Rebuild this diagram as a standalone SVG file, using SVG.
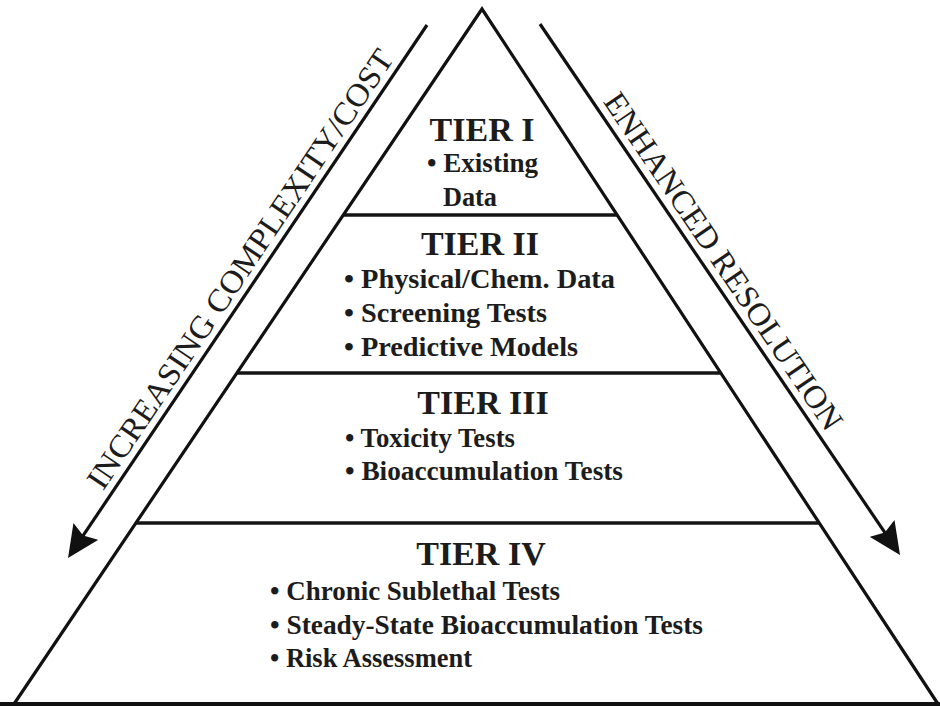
<svg xmlns="http://www.w3.org/2000/svg" width="940" height="707" viewBox="0 0 940 707">
  <style>
    .edge { stroke: #111; stroke-width: 3.2; fill: none; stroke-linecap: butt; }
    .divider { stroke: #151515; stroke-width: 3.5; }
    .head { font-family: "Liberation Serif", "Times New Roman", serif; font-weight: bold; font-size: 34px; fill: #1c1c1c; text-anchor: middle; }
    .item { font-family: "Liberation Serif", "Times New Roman", serif; font-weight: bold; font-size: 27px; fill: #1c1c1c; }
    .side { font-family: "Liberation Serif", "Times New Roman", serif; font-size: 32px; fill: #1c1c1c; text-anchor: middle; }
  </style>
  <defs>
    <marker id="arrowhead" markerUnits="userSpaceOnUse" viewBox="0 -15 32 30" refX="12" refY="0" markerWidth="32" markerHeight="30" orient="auto">
      <path d="M0,-15 L32,0 L0,15 L5,0 Z" fill="#111"/>
    </marker>
  </defs>

  <rect width="940" height="707" fill="#ffffff"/>

  <!-- pyramid outline and tier dividers -->
  <g id="pyramid">
    <polyline class="edge" points="14,704 482,9 938,704"/>
    <line x1="0" y1="704" x2="940" y2="704" stroke="#111" stroke-width="4"/>
    <line class="divider" x1="343" y1="215" x2="617" y2="215"/>
    <line class="divider" x1="237" y1="373" x2="721" y2="373"/>
    <line class="divider" x1="136" y1="523" x2="819" y2="523"/>
  </g>

  <g id="tier1">
    <text class="head" x="482" y="141" font-size="32">TIER I</text>
    <text class="item" x="427" y="172" textLength="111" lengthAdjust="spacingAndGlyphs">• Existing</text>
    <text class="item" x="443" y="206" textLength="54" lengthAdjust="spacingAndGlyphs">Data</text>
  </g>

  <g id="tier2">
    <text class="head" x="480" y="255">TIER II</text>
    <text class="item" x="344" y="288" textLength="271" lengthAdjust="spacingAndGlyphs">• Physical/Chem. Data</text>
    <text class="item" x="344" y="322" textLength="203" lengthAdjust="spacingAndGlyphs">• Screening Tests</text>
    <text class="item" x="344" y="356" textLength="234" lengthAdjust="spacingAndGlyphs">• Predictive Models</text>
  </g>

  <g id="tier3">
    <text class="head" x="483" y="414">TIER III</text>
    <text class="item" x="345" y="447" textLength="170" lengthAdjust="spacingAndGlyphs">• Toxicity Tests</text>
    <text class="item" x="345" y="480" textLength="278" lengthAdjust="spacingAndGlyphs">• Bioaccumulation Tests</text>
  </g>

  <g id="tier4">
    <text class="head" x="481" y="565">TIER IV</text>
    <text class="item" x="270" y="600" textLength="290" lengthAdjust="spacingAndGlyphs">• Chronic Sublethal Tests</text>
    <text class="item" x="270" y="634" textLength="433" lengthAdjust="spacingAndGlyphs">• Steady-State Bioaccumulation Tests</text>
    <text class="item" x="270" y="667" textLength="202" lengthAdjust="spacingAndGlyphs">• Risk Assessment</text>
  </g>

  <g id="connectors">
    <line class="edge" x1="427" y1="25" x2="79.2" y2="541.4" marker-end="url(#arrowhead)"/>
    <line class="edge" x1="540" y1="24" x2="888.8" y2="538.4" marker-end="url(#arrowhead)"/>
  </g>

  <g id="axis-labels">
    <text class="side" transform="translate(249,275) rotate(-56)" textLength="522" lengthAdjust="spacingAndGlyphs">INCREASING COMPLEXITY/COST</text>
    <text class="side" transform="translate(714.5,267.2) rotate(55.9)" textLength="400" lengthAdjust="spacingAndGlyphs">ENHANCED RESOLUTION</text>
  </g>
</svg>
